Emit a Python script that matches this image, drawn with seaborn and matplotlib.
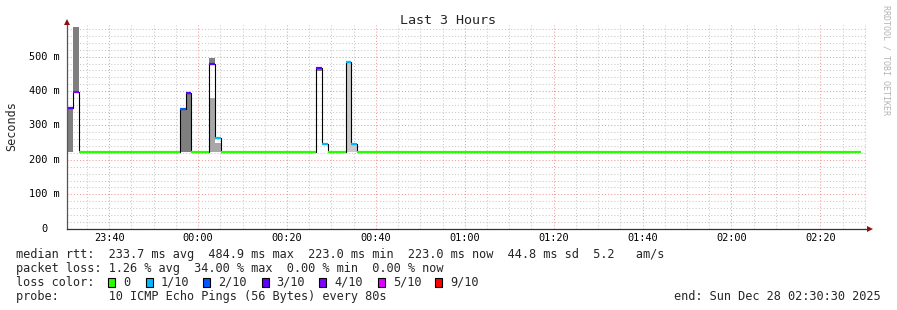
import numpy as np
import matplotlib
matplotlib.use("Agg")
import matplotlib.pyplot as plt
import matplotlib.transforms as mtrans
from matplotlib.patches import Rectangle
import seaborn as sns

# ---------------- data ----------------
STEP_SECONDS = 80
median_ms = ([351, 398] + [223] * 17 + [349, 394] + [223] * 3 + [480, 265] + [223] * 16
             + [466, 245] + [223] * 3 + [486, 245] + [223] * 85)
loss_tenths = ([3, 4] + [0] * 17 + [2, 3] + [0] * 3 + [3, 1] + [0] * 16
               + [3, 1] + [0] * 3 + [1, 1] + [0] * 85)

smoke_step = [0, 1, 19, 20, 24, 24, 25, 42, 47, 48]
smoke_lo = [222, 398, 223, 223, 223, 483, 223, 458, 223, 223]
smoke_hi = [351, 585, 349, 394, 379, 496, 249, 464, 486, 245]
smoke_shade = ["dark", "dark", "dark", "dark", "mid", "dark", "mid", "dark", "light", "light"]

loss_levels = [0, 1, 2, 3, 4, 5, 9]
loss_labels = ["0", "1/10", "2/10", "3/10", "4/10", "5/10", "9/10"]
loss_colors = ["#26ff00", "#00b8ff", "#0059ff", "#5e00ff", "#7e00ff", "#dd00ff", "#ff0000"]

window_start = "23:30:30"
window_minutes = 180
x_tick_labels = ["23:40", "00:00", "00:20", "00:40", "01:00", "01:20", "01:40", "02:00", "02:20"]
y_tick_values = [0, 100, 200, 300, 400, 500]
y_tick_labels = ["0", "100 m", "200 m", "300 m", "400 m", "500 m"]

title = "Last 3 Hours"
y_label = "Seconds"
legend_lines = [
    "median rtt:  233.7 ms avg  484.9 ms max  223.0 ms min  223.0 ms now  44.8 ms sd  5.2   am/s",
    "packet loss: 1.26 % avg  34.00 % max  0.00 % min  0.00 % now",
]
loss_title = "loss color:"
probe_line = "probe:       10 ICMP Echo Pings (56 Bytes) every 80s"
end_line = "end: Sun Dec 28 02:30:30 2025"
watermark = "RRDTOOL / TOBI OETIKER"

# ---------------- helpers ----------------
def minutes_after_start(hhmm):
    h0, m0, s0 = [int(v) for v in window_start.split(":")]
    parts = [int(v) for v in hhmm.split(":")]
    h, m = parts[0], parts[1]
    s = parts[2] if len(parts) > 2 else 0
    t = h * 60 + m + s / 60.0
    t0 = h0 * 60 + m0 + s0 / 60.0
    if t < t0:
        t += 24 * 60
    return t - t0

step_min = STEP_SECONDS / 60.0
t = np.arange(len(median_ms)) * step_min
median = np.array(median_ms, dtype=float)
color_of = dict(zip(loss_levels, loss_colors))
shade_color = {"dark": "#7f7f7f", "mid": "#a8a8a8", "light": "#c9c9c9"}

W, H = 897, 310
MONO = "DejaVu Sans Mono"

sns.set_theme(style="white")
plt.rcParams["font.family"] = [MONO, "DejaVu Sans"]

fig = plt.figure(figsize=(W / 100, H / 100), dpi=100)
fig.patch.set_facecolor("white")

ax_left, ax_right, ax_bottom, ax_top = 67, 867, 228.7, 25
ax = fig.add_axes([ax_left / W, 1 - ax_bottom / H, (ax_right - ax_left) / W,
                   (ax_bottom - ax_top) / H])
ax.set_facecolor("white")
px_per_ms = 0.344
ax.set_xlim(0, window_minutes)
ax.set_ylim(0, (ax_bottom - ax_top) / px_per_ms)

# grid
major_x = [minutes_after_start(s) for s in x_tick_labels]
first_minor = major_x[0] % 5
minor_x = [v for v in np.arange(first_minor, window_minutes, 5) if min(abs(v - m) for m in major_x) > 0.01]
ax.set_xticks(major_x)
ax.set_xticklabels(x_tick_labels)
ax.set_xticks(minor_x, minor=True)
ax.set_yticks(y_tick_values)
ax.set_yticklabels([])
ax.set_yticks([v for v in range(20, 600, 20) if v % 100 != 0], minor=True)

minor_col = "#c8c8c8"
major_col = "#f09a9a"
ax.grid(True, which="minor", color=minor_col, linestyle=(0, (1, 2)), linewidth=0.75)
ax.grid(True, which="major", color=major_col, linestyle=(0, (1, 2)), linewidth=0.75)
ax.set_axisbelow(True)

ax.tick_params(axis="both", which="both", direction="out", length=2.2, width=0.7)
ax.tick_params(axis="both", which="minor", color=minor_col)
ax.tick_params(axis="both", which="major", color=major_col)
ax.tick_params(axis="x", which="major", labelsize=7.4, pad=1.2, labelcolor="black")
for lab in ax.get_xticklabels():
    lab.set_fontfamily(MONO)

# y tick labels (right-aligned, "0" has blank unit)
ytrans = mtrans.blended_transform_factory(fig.transFigure, ax.transData)
for v, lab in zip(y_tick_values, y_tick_labels):
    xr = 60.0 if lab.endswith("m") else 60.0 - 2 * 6.2
    ax.text(xr / W, v, lab, transform=ytrans, ha="right", va="center",
            fontsize=7.4, family=MONO, color="black")

for side in ["top", "right"]:
    ax.spines[side].set_visible(False)
ax.spines["left"].set_color("#555555")
ax.spines["bottom"].set_color("#333333")
ax.spines["left"].set_linewidth(0.9)
ax.spines["bottom"].set_linewidth(0.9)
ax.spines["left"].set_zorder(6)
ax.spines["bottom"].set_zorder(6)

# smoke
for s, lo, hi, sh in zip(smoke_step, smoke_lo, smoke_hi, smoke_shade):
    ax.bar(t[s], hi - lo, bottom=lo, width=step_min, align="edge",
           color=shade_color[sh], linewidth=0, zorder=2)

# median step line (black outline)
sns.lineplot(x=t, y=median, drawstyle="steps-post", color="black", linewidth=0.8,
             ax=ax, legend=False, zorder=3)

# loss-coloured median segments
ax.hlines(median, t, t + step_min,
          colors=[color_of[l] for l in loss_tenths], linewidth=1.6, zorder=4)

ax.set_xlabel("")
ax.set_ylabel("")

# axis arrows
arrow_col = "#8b1010"
ax.plot([0], [1 + 3 / (ax_bottom - ax_top)], marker="^", markersize=4.5, color=arrow_col,
        transform=ax.transAxes, clip_on=False, zorder=7, markeredgewidth=0)
ax.plot([1 + 3 / (ax_right - ax_left)], [0], marker=">", markersize=4.5, color=arrow_col,
        transform=ax.transAxes, clip_on=False, zorder=7, markeredgewidth=0)

# ---------------- texts ----------------
def fx(x):
    return x / W

def fy(y):
    return 1 - y / H

fig.text(fx(448), fy(23.5), title, ha="center", va="baseline", fontsize=9.6, family=MONO)
fig.text(fx(12), fy(126), y_label, ha="center", va="center", rotation=90, fontsize=8.5,
         family=MONO)
fig.text(fx(886), fy(5), watermark, ha="center", va="top", rotation=270, fontsize=6,
         family=MONO, color="#b4b4b4")

LEG_FS = 8.54
base_y = [257.7, 271.7, 285.7, 299.7]
for line, by in zip(legend_lines, base_y[:2]):
    fig.text(fx(16), fy(by), line, ha="left", va="baseline", fontsize=LEG_FS, family=MONO)
fig.text(fx(16), fy(base_y[2]), loss_title, ha="left", va="baseline", fontsize=LEG_FS, family=MONO)
box_x = [108.3, 145.7, 203, 261.7, 319, 377.7, 435]
for bx, lab, col in zip(box_x, loss_labels, loss_colors):
    fig.add_artist(Rectangle((fx(bx), fy(286.5)), 7 / W, 9 / H, transform=fig.transFigure,
                             facecolor=col, edgecolor="black", linewidth=0.8))
    fig.text(fx(bx + 15), fy(base_y[2]), lab, ha="left", va="baseline", fontsize=LEG_FS,
             family=MONO)
fig.text(fx(16), fy(base_y[3]), probe_line, ha="left", va="baseline", fontsize=LEG_FS, family=MONO)
fig.text(fx(881), fy(base_y[3]), end_line, ha="right", va="baseline", fontsize=LEG_FS, family=MONO)

fig.savefig("out.png", dpi=100, facecolor="white")
